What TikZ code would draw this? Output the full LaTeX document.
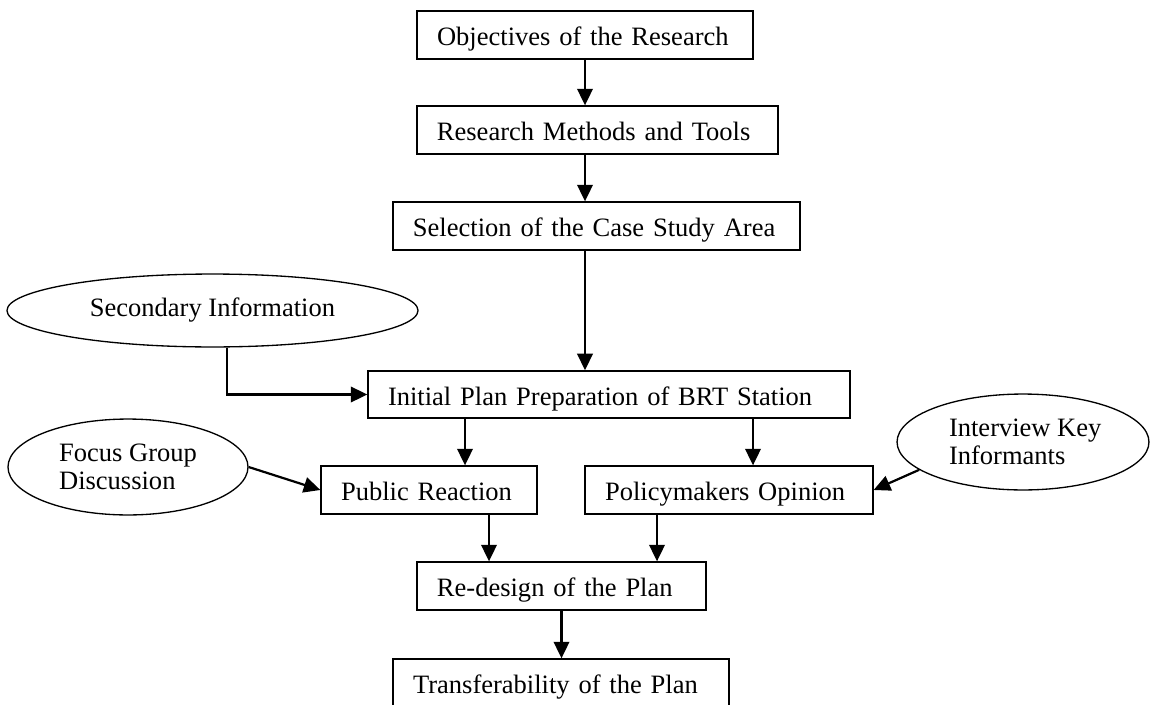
\documentclass[tikz,border=0pt]{standalone}
\usepackage{fontspec}
\setmainfont{Liberation Serif}
\usetikzlibrary{arrows.meta, shapes.geometric, positioning}

\begin{document}
\begin{tikzpicture}[
		x=0.4525pt, y=-0.4525pt,
		every node/.style={font=\fontsize{12pt}{12.7pt}\selectfont},
		stage/.style={draw, line width=0.6pt, rectangle, inner xsep=9.05pt, inner ysep=0pt, minimum height=21.7pt, text height=10pt, text depth=0.4pt, align=left},
		source/.style={draw, line width=0.6pt, ellipse, inner sep=0pt, align=left},
		flow/.style={-{Triangle[length=7.5pt, width=7pt]}, line width=1pt}
		]
	
		\useasboundingbox (0,0) rectangle (1150,705);
	
		% --- main chain ---
		\node[stage, text width=133.9pt] (obj) at (585, 35) {Objectives of the Research};
		\node[stage, text width=145.3pt] (meth) at (597.5, 130) {Research Methods and Tools};
		\node[stage, text width=166.1pt] (sel) at (596.5, 226) {Selection of the Case Study Area};
		\node[stage, text width=200pt, minimum height=21.3pt] (init) at (609, 394.5) {Initial Plan Preparation of BRT Station};
		\node[stage, text width=79.6pt] (pub) at (429, 490) {Public Reaction};
		\node[stage, text width=112.2pt] (pol) at (729, 490) {Policymakers Opinion};
		\node[stage, text width=112.7pt] (redes) at (561.5, 586) {Re-design of the Plan};
		\node[stage, text width=133.9pt] (trans) at (561, 683) {Transferability of the Plan};
	
		% --- inputs ---
		\node[source, minimum width=186pt, minimum height=33pt] (sec) at (212.5, 310.5) {Secondary Information};
		\node[source, minimum width=108.6pt, minimum height=43.4pt] (fgd) at (128, 467) {Focus Group\\Discussion};
		\node[source, minimum width=114pt, minimum height=43.4pt] (kii) at (1023, 442) {\hspace*{2pt}Interview Key\\\hspace*{2pt}Informants};
	
		\coordinate (c1) at (465, 0);
		\coordinate (c2) at (753, 0);
		\coordinate (c3) at (489, 0);
		\coordinate (c4) at (657, 0);
	
		\draw[flow] (obj.south) -- (obj.south |- meth.north);
		\draw[flow] (meth.south -| obj.south) -- (sel.north -| obj.south);
		\draw[flow] (sel.south -| obj.south) -- (init.north -| obj.south);
		\draw[flow] (sec.291) |- (init.west);
		\draw[flow] (init.south -| c1) -- (pub.north -| c1);
		\draw[flow] (init.south -| c2) -- (pol.north -| c2);
		\draw[flow] (fgd.east) -- (pub.west);
		\draw[flow] (kii.195) -- (pol.east);
		\draw[flow] (pub.south -| c3) -- (redes.north -| c3);
		\draw[flow] (pol.south -| c4) -- (redes.north -| c4);
		\draw[flow] (redes.south) -- (redes.south |- trans.north);
	
	\end{tikzpicture}
\end{document}
